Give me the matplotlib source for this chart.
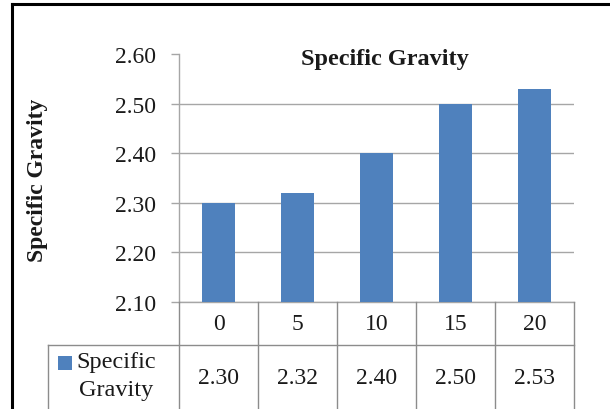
import numpy as np
import matplotlib
matplotlib.use("Agg")
import matplotlib.pyplot as plt
from matplotlib.lines import Line2D
from matplotlib.patches import Rectangle
import matplotlib.transforms as mtransforms

categories = ["0", "5", "10", "15", "20"]
gravity = [2.30, 2.32, 2.40, 2.50, 2.53]
series_name = "Specific Gravity"
yticks = [2.10, 2.20, 2.30, 2.40, 2.50, 2.60]

W, H = 610, 410
bar_color = "#4f81bd"
grid_color = "#a6a6a6"
table_color = "#8c8c8c"
text_color = "#1a1a1a"
serif = "Liberation Serif"


def fx(x):
    return x / W


def fy(y):
    return 1 - y / H


fig = plt.figure(figsize=(W / 100, H / 100), dpi=100)
fig.patch.set_facecolor("white")

# plot area in pixel box 179..574 x 55..303
ax = fig.add_axes([fx(179), fy(303), fx(574) - fx(179), fy(55) - fy(303)])
x = np.arange(len(categories))
ax.bar(x, gravity, width=0.41, color=bar_color, zorder=3)
ax.set_xlim(-0.5, len(categories) - 0.5)
ax.set_ylim(2.10, 2.60)
ax.set_yticks(yticks)
ax.set_yticklabels(["%.2f" % t for t in yticks], fontsize=17,
                   fontfamily=serif, color=text_color)
ax.tick_params(axis="y", length=5.8, width=1, color=grid_color, pad=11)
ax.set_xticks([])
ax.yaxis.grid(True, color=grid_color, linewidth=1)
ax.get_ygridlines()[-1].set_visible(False)
ax.set_axisbelow(True)
for side in ["top", "right"]:
    ax.spines[side].set_visible(False)
for side in ["left", "bottom"]:
    ax.spines[side].set_color(grid_color)
    ax.spines[side].set_linewidth(1)

# title and axis label
fig.text(fx(385), fy(60), series_name, ha="center", va="center",
         fontsize=17.5, fontweight="bold", fontfamily=serif, color=text_color)
fig.text(fx(38), fy(180), series_name, ha="center", va="center",
         rotation=90, fontsize=17, fontweight="bold", fontfamily=serif,
         color=text_color)

# data table under the axis
blend = mtransforms.blended_transform_factory(ax.transData, fig.transFigure)
row1_top, row1_bot, row2_bot = 303, 346, 420
for b in np.arange(-0.5, len(categories), 1.0):
    fig.add_artist(Line2D([b, b], [fy(row1_top), fy(row2_bot)],
                          transform=blend, color=table_color, lw=1))
fig.add_artist(Line2D([fx(48), fx(574)], [fy(row1_bot), fy(row1_bot)],
                      color=table_color, lw=1))
fig.add_artist(Line2D([fx(48), fx(48)], [fy(row1_bot), fy(row2_bot)],
                      color=table_color, lw=1))
for i, (c, v) in enumerate(zip(categories, gravity)):
    fig.text(i, fy(325), c, transform=blend, ha="center", va="center",
             fontsize=17, fontfamily=serif, color=text_color)
    fig.text(i, fy(379), "%.2f" % v, transform=blend, ha="center",
             va="center", fontsize=17, fontfamily=serif, color=text_color)

# legend key inside the table
fig.add_artist(Rectangle((fx(58), fy(371)), fx(14), fy(357) - fy(371),
                         facecolor=bar_color, edgecolor="none"))
fig.text(fx(76), fy(363), "Specific", ha="left", va="center",
         fontsize=17.5, fontfamily=serif, color=text_color)
fig.text(fx(79), fy(391), "Gravity", ha="left", va="center",
         fontsize=17.5, fontfamily=serif, color=text_color)

# outer frame
fig.add_artist(Line2D([fx(12), fx(612)], [fy(5), fy(5)], color="black", lw=2.2))
fig.add_artist(Line2D([fx(12), fx(12)], [fy(5), fy(412)], color="black", lw=2.2))

fig.savefig("out.png", dpi=100)
